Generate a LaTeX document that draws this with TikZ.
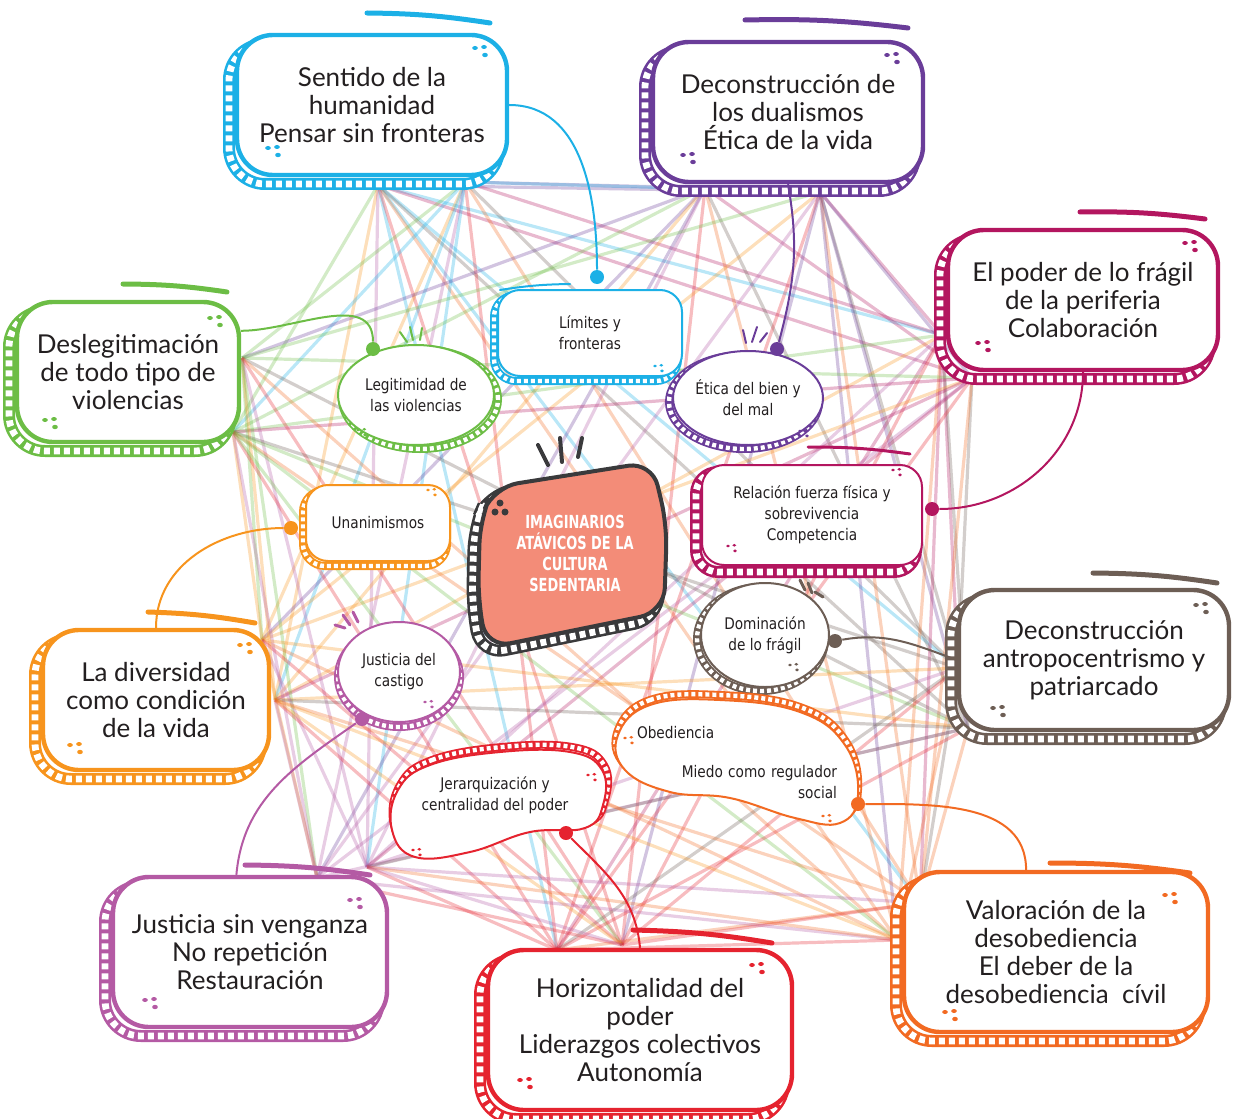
\documentclass[tikz,border=0pt]{standalone}
\usepackage{fontspec}
\setmainfont{Lato}
\newfontfamily\hubfont[FakeStretch=0.95]{DejaVu Sans Condensed}
\newfontfamily\corefont[FakeStretch=0.8]{DejaVu Sans Condensed}
\usetikzlibrary{shapes.geometric}

\definecolor{ink}{HTML}{231F20}
\definecolor{col1}{HTML}{1CB0E6}
\definecolor{col2}{HTML}{6A3D99}
\definecolor{col3}{HTML}{B3165F}
\definecolor{col4}{HTML}{6CBD45}
\definecolor{col5}{HTML}{6D5E55}
\definecolor{col6}{HTML}{F7941D}
\definecolor{col7}{HTML}{F26A22}
\definecolor{col8}{HTML}{B45AA4}
\definecolor{col9}{HTML}{E5232F}
\definecolor{salmon}{HTML}{F38C78}
\definecolor{coal}{HTML}{3A3A3C}

\begin{document}
\begin{tikzpicture}[x=0.5pt,y=-0.5pt,
  bigladder/.style n args={3}{preaction={draw=#1,line width=6pt,transform canvas={xshift=#2,yshift=#3}},
    preaction={draw=white,line width=3.4pt,dash pattern=on 3pt off 2pt,transform canvas={xshift=#2,yshift=#3}}},
  smallladder/.style n args={3}{preaction={draw=#1,line width=4pt,transform canvas={xshift=#2,yshift=#3}},
    preaction={draw=white,line width=2.2pt,dash pattern=on 2pt off 1.5pt,transform canvas={xshift=#2,yshift=#3}}},
  bigbox/.style={draw=#1,line width=2.2pt,fill=white,rounded corners=18pt,align=center,text=ink,inner sep=2pt,
    font=\fontsize{13}{14}\selectfont,bigladder={#1}{-4pt}{-4.5pt}},
  hubrect/.style={draw=#1,line width=1pt,fill=white,rounded corners=11pt,align=center,text=ink,inner sep=2pt,
    font=\hubfont\fontsize{8}{10.5}\selectfont},
  hubell/.style={hubrect=#1,ellipse,sharp corners,inner xsep=-4pt,inner ysep=-2pt},
  thread/.style={draw=#1,line width=1.6pt,opacity=.3},
  cord/.style={draw=#1,line width=1pt},
  knob/.style={fill=#1,circle,inner sep=0pt,minimum size=7pt},
  swoosh/.style={draw=#1,line width=2.5pt,line cap=round},
  sparks/.style={draw=#1,line width=1pt,line cap=round},
  specks/.pic={\fill (0,0) ellipse (1.4pt and 1pt) (9,-1) ellipse (1.4pt and 1pt) (10,7) ellipse (1.4pt and 1.1pt);}
  ]
\useasboundingbox (0,0) rectangle (1235,1118);

% fan points of the big boxes
\foreach \x/\y [count=\k] in {378/185,465/182,705/188,820/192,942/335,972/378,
  242/358,233/432,958/668,968/728,262/640,275/700,920/903,897/940,
  317/878,367/867,557/950,622/945}
  \coordinate (f\k) at (\x,\y);

% the web
\foreach \i in {1,...,18}
  \foreach \j in {1,...,18}{
    \pgfmathtruncatemacro\bi{(\i+1)/2}
    \pgfmathtruncatemacro\bj{(\j+1)/2}
    \pgfmathtruncatemacro\pick{mod(\i+\j,2)==0 ? \bi : \bj}
    \pgfmathtruncatemacro\skip{mod(7*\i+3*\j,4)}
    \ifnum\bi<\bj \ifnum\skip>0 \draw[thread=col\pick] (f\i) -- (f\j); \fi\fi
  }

% big boxes
\node[bigbox=col1,minimum width=135pt,minimum height=70pt] (sent) at (372,105) {Sentido de la\\humanidad\\Pensar sin fronteras};
\node[bigbox=col2,minimum width=135pt,minimum height=70pt] (dual) at (788,112) {Deconstrucción de\\los dualismos\\Ética de la vida};
\node[bigbox=col3,minimum width=135pt,minimum height=70pt] (poder) at (1083,300) {El poder de lo frágil\\de la periferia\\Colaboración};
\node[bigbox=col4,minimum width=111pt,minimum height=70pt] (desl) at (128,372) {Deslegitimación\\de todo tipo de\\violencias};
\node[bigbox=col5,minimum width=135pt,minimum height=70pt] (antro) at (1094,660) {Deconstrucción\\antropocentrismo y\\patriarcado};
\node[bigbox=col6,minimum width=113pt,minimum height=70pt] (diver) at (156,700) {La diversidad\\como condición\\de la vida};
\node[bigbox=col7,minimum width=152pt,minimum height=80pt] (valor) at (1056,952) {Valoración de la\\desobediencia\\El deber de la\\desobediencia\ \ cívil};
\node[bigbox=col8,minimum width=137pt,minimum height=75pt] (jsv) at (250,952) {Justicia sin venganza\\No repetición\\Restauración};
\node[bigbox=col9,minimum width=152pt,minimum height=80pt] (horiz) at (640,1030) {Horizontalidad del\\poder\\Liderazgos colectivos\\Autonomía};

% hubs
\node[hubrect=col1,minimum width=92pt,minimum height=43pt,smallladder={col1}{-2pt}{-2.5pt}] (lim) at (590,333) {Límites y\\fronteras};
\node[hubell=col2,minimum width=75pt,minimum height=47pt,smallladder={col2}{-2pt}{-2pt}] (etica) at (748,398) {Ética del bien y\\del mal};
\node[hubell=col4,minimum width=78pt,minimum height=50pt,smallladder={col4}{2pt}{-2pt}] (legit) at (416,395) {Legitimidad de\\las violencias};
\node[hubrect=col3,minimum width=110pt,minimum height=50pt,bigladder={col3}{-3pt}{-3.5pt}] (rel) at (812,515) {Relación fuerza física y\\sobrevivencia\\Competencia};
\node[hubrect=col6,minimum width=72pt,minimum height=38pt,smallladder={col6}{-1.5pt}{-2.5pt}] (unan) at (378,523) {Unanimismos};
\node[hubell=col8,minimum width=61pt,minimum height=50pt,smallladder={col8}{0pt}{-2.5pt}] (castigo) at (399,672) {Justicia del\\castigo};
\node[hubell=col5,minimum width=64pt,minimum height=52pt,smallladder={col5}{-2pt}{-2pt}] (domin) at (765,635) {Dominación\\de lo frágil};

% blobs
\draw[cord=col9,fill=white,smallladder={col9}{1pt}{2.5pt}] plot[smooth cycle,tension=.7] coordinates
  {(398,790) (430,765) (500,752) (570,752) (602,770) (603,805) (585,828) (530,832) (470,852) (415,857) (392,830)};
\node[text=ink,align=center,font=\hubfont\fontsize{8}{10.5}\selectfont] (jerar) at (495,795) {Jerarquización y\\centralidad del poder};
\draw[cord=col7,fill=white,smallladder={col7}{0pt}{2.5pt}] plot[smooth cycle,tension=.7] coordinates
  {(618,735) (650,705) (720,700) (800,712) (845,745) (858,795) (840,823) (795,818) (730,798) (670,792) (625,770)};
\node[text=ink,text width=100pt,align=left,font=\hubfont\fontsize{8}{10.5}\selectfont] (obed) at (737,763)
  {Obediencia\\[9pt]\hfill Miedo como regulador\\\hfill social};

% centre
\draw[draw=coal,line width=2pt,fill=salmon,rounded corners=12pt,bigladder={coal}{-3pt}{-3.5pt}]
  (480,520) -- (494,487) -- (652,462) -- (667,525) -- (664,612) -- (487,648) -- (478,600) -- cycle;
\node[text=white,align=center,font=\corefont\bfseries\fontsize{9}{10.5}\selectfont] (core) at (575,553)
  {IMAGINARIOS\\ATÁVICOS DE LA\\CULTURA\\SEDENTARIA};
\fill[coal] (500,503) circle (3.5) (495,512) circle (3.5) (505,512) circle (3.5);

% dots and cords
\node[knob=col1] (limdot) at (597,277) {};
\node[knob=col2] (eticadot) at (777,349) {};
\node[knob=col4] (legitdot) at (373,349) {};
\node[knob=col3] (reldot) at (932,509) {};
\node[knob=col6] (unandot) at (291,528) {};
\node[knob=col8] (castigodot) at (362,719) {};
\node[knob=col5] (domindot) at (835,641) {};
\node[knob=col9] (jerardot) at (566,833) {};
\node[knob=col7] (obeddot) at (858,804) {};
\draw[cord=col1] (sent.east) to[out=0,in=90] (limdot);
\draw[cord=col2] (dual.south) to[out=-80,in=75] (eticadot);
\draw[cord=col4] (desl.20) to[out=0,in=90] (legitdot);
\draw[cord=col3] (poder.south) to[out=-90,in=0] (reldot);
\draw[cord=col6] (diver.north) to[out=90,in=180] (unandot);
\draw[cord=col8] (jsv.100) to[out=85,in=-145] (castigodot);
\draw[cord=col5] (antro.west) to[out=160,in=10] (domindot);
\draw[cord=col9] (horiz.north) to[out=95,in=-45] (jerardot);
\draw[cord=col7] (valor.110) to[out=90,in=0] (obeddot);

% swooshes
\draw[swoosh=col1] (367,13) to[bend left=4] (490,23);
\draw[swoosh=col2] (745,20) to[bend left=4] (908,28);
\draw[swoosh=col3] (1080,212) to[bend left=4] (1205,219);
\draw[swoosh=col4] (123,284) to[bend left=4] (227,292);
\draw[swoosh=col5] (1093,573) to[bend left=4] (1217,583);
\draw[swoosh=col6] (148,612) to[bend left=4] (255,623);
\draw[swoosh=col7] (1050,863) to[bend left=4] (1190,873);
\draw[swoosh=col8] (245,865) to[bend left=4] (370,875);
\draw[swoosh=col9] (633,930) to[bend left=4] (772,943);
\draw[swoosh=col3,line width=1.5pt] (808,447) to[bend left=4] (910,454);
\draw[swoosh=col1,line width=1pt] (500,290) to[bend left=4] (570,284);

% sparks
\draw[sparks=coal,line width=2pt] (538,445) -- (548,465) (560,438) -- (562,462) (582,438) -- (578,457);
\draw[sparks=col4] (400,332) -- (407,342) (410,327) -- (413,340) (422,328) -- (420,340);
\draw[sparks=col2] (743,330) -- (746,343) (757,327) -- (752,342) (767,333) -- (760,342);
\draw[sparks=col8,line width=1.5pt] (335,625) -- (345,628) (343,615) -- (350,625) (353,612) -- (358,622);
\draw[sparks=col5,line width=1.5pt] (800,580) -- (805,590) (808,583) -- (812,593) (815,592) -- (823,597);

% specks
\foreach \c/\ax/\ay/\bx/\by in {col1/475/48/268/148, col2/887/55/683/155, col3/1185/243/978/343,
  col4/210/318/45/420, col5/1196/605/993/708, col6/240/645/70/745, col7/1165/895/945/1012,
  col8/350/900/145/1000, col9/752/965/520/1080}{
  \pic[\c] at (\ax,\ay) {specks};
  \pic[\c] at (\bx,\by) {specks};
}
\pic[col1,scale=.7] at (655,366) {specks};
\pic[col2,scale=.7] at (800,431) {specks};
\pic[col4,scale=.7] at (358,430) {specks};
\pic[col3,scale=.7] at (893,470) {specks};
\pic[col3,scale=.7] at (728,546) {specks};
\pic[col6,scale=.7] at (428,490) {specks};
\pic[col8,scale=.7] at (425,702) {specks};
\pic[col5,scale=.7] at (790,665) {specks};
\pic[col9,scale=.7] at (588,775) {specks};
\pic[col9,scale=.7] at (413,850) {specks};
\pic[col7,scale=.7] at (625,738) {specks};
\pic[col7,scale=.7] at (823,816) {specks};
\end{tikzpicture}
\end{document}
